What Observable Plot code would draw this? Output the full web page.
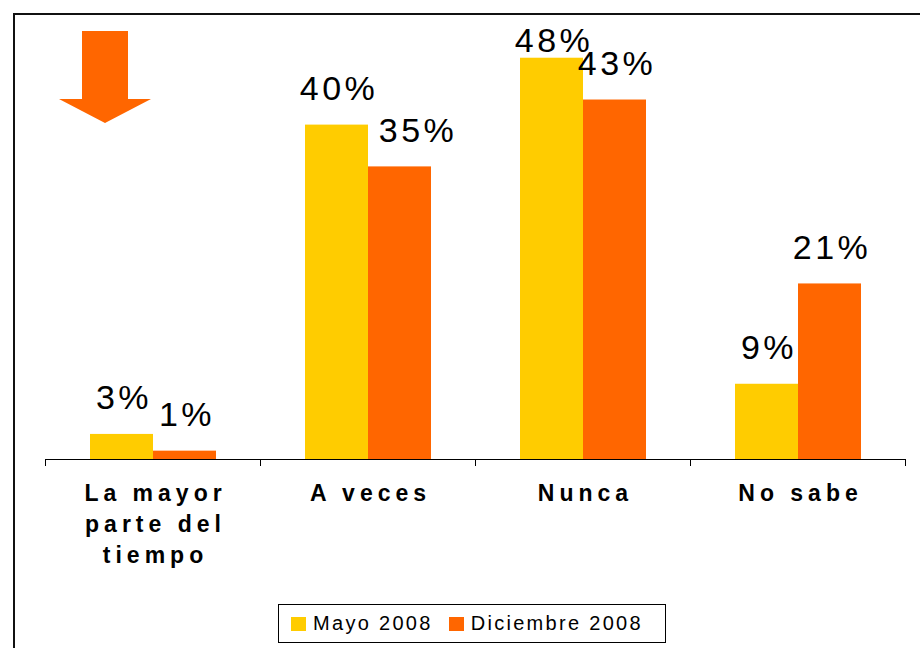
<!DOCTYPE html>
<html>
<head>
<meta charset="utf-8">
<script src="https://cdn.jsdelivr.net/npm/d3@7"></script>
<script src="https://cdn.jsdelivr.net/npm/@observablehq/plot@0.6"></script>
<style>
  html, body { margin: 0; padding: 0; background: #fff; }
  #wrap { position: relative; width: 920px; height: 648px; overflow: hidden; font-family: "Liberation Sans", Arial, sans-serif; }
  #border { position: absolute; left: 13px; top: 13px; width: 1000px; height: 1000px; border: 2px solid #111; box-sizing: border-box; pointer-events: none; }
  #arrow { position: absolute; left: 0; top: 0; }
  #chart { position: absolute; left: 0; top: 0; }
  #legend { position: absolute; left: 278px; top: 604px; width: 388px; height: 39px; border: 1px solid #000; box-sizing: border-box; background: #fff; display: flex; align-items: center; }
  #legend .item { display: flex; align-items: center; font-size: 20px; letter-spacing: 2.3px; color: #000; }
  #legend .sw { width: 15px; height: 14px; display: inline-block; margin-right: 7px; }
</style>
</head>
<body>
<div id="wrap">
  <div id="chart"></div>
  <svg id="arrow" width="160" height="130"><polygon points="82,31 128,31 128,99 151,99 105,123 59,99 82,99" fill="#FF6600"/></svg>
  <div id="legend"></div>
  <div id="border"></div>
</div>
<script>
const categorias = ["La mayor\nparte del\ntiempo", "A veces", "Nunca", "No sabe"];
const series = ["Mayo 2008", "Diciembre 2008"];
const mayo2008 = [3, 40, 48, 9];
const diciembre2008 = [1, 35, 43, 21];
const colores = ["#FFCC00", "#FF6600"];

const valores = [mayo2008, diciembre2008];
const rows = [];
series.forEach((s, si) => categorias.forEach((c, ci) => rows.push({categoria: c, serie: s, valor: valores[si][ci]})));

// label sits ~3 points above its bar, but never above the top of the plot area
const labelY = d => Math.min(d.valor + 3, 48.7);
const nudged = d => d.categoria === "A veces" && d.serie === series[1];
const labelOpts = {fx: "categoria", x: "serie", y: labelY, text: d => d.valor + "%", lineAnchor: "bottom", fontSize: 34, fill: "#000"};

const chart = Plot.plot({
  width: 920,
  height: 604,
  marginLeft: 44,
  marginRight: 14,
  marginTop: 41,
  marginBottom: 145,
  style: {fontFamily: "Liberation Sans, Arial, sans-serif", background: "transparent", color: "#000"},
  fx: {domain: categorias, padding: 0, label: null},
  x: {domain: series, paddingInner: 0, paddingOuter: 0.697, axis: null},
  y: {domain: [0, 50], axis: null},
  color: {domain: series, range: colores},
  marks: [
    Plot.barY(rows, {fx: "categoria", x: "serie", y: "valor", fill: "serie"}),
    Plot.ruleY([0], {stroke: "#000", strokeWidth: 1}),
    Plot.text(rows.filter(d => !nudged(d)), {...labelOpts, dx: 2}),
    Plot.text(rows.filter(nudged), {...labelOpts, dx: 18}),
    Plot.axisFx({anchor: "bottom", tickSize: 0, tickPadding: 19, fontSize: 23, fontWeight: "bold", lineHeight: 1.35, dx: 2.5, label: null, fill: "#000"})
  ]
});
document.getElementById("chart").appendChild(chart);

// letter spacing like the original
d3.select(chart).selectAll('g[aria-label="fx-axis tick label"] text').style("letter-spacing", "5px");
d3.select(chart).selectAll('g[aria-label="text"] text').style("letter-spacing", "3.5px");

// tick marks at the category band boundaries, placed with the fx scale
const fx = chart.scale("fx");
const y = chart.scale("y");
const y0 = y.apply(0);
const bounds = categorias.map(c => fx.apply(c)).concat([fx.apply(categorias[categorias.length - 1]) + fx.bandwidth]);
d3.select(chart).append("g").attr("aria-label", "boundary ticks")
  .selectAll("line").data(bounds).join("line")
  .attr("x1", d => d + 0.5).attr("x2", d => d + 0.5)
  .attr("y1", y0).attr("y2", y0 + 7)
  .attr("stroke", "#000").attr("stroke-width", 1);

// legend
const legend = d3.select("#legend");
series.forEach((s, i) => {
  const item = legend.append("div").attr("class", "item").style("margin-left", i === 0 ? "12px" : "16px");
  item.append("span").attr("class", "sw").style("background", colores[i]);
  item.append("span").text(s);
});
</script>
</body>
</html>
